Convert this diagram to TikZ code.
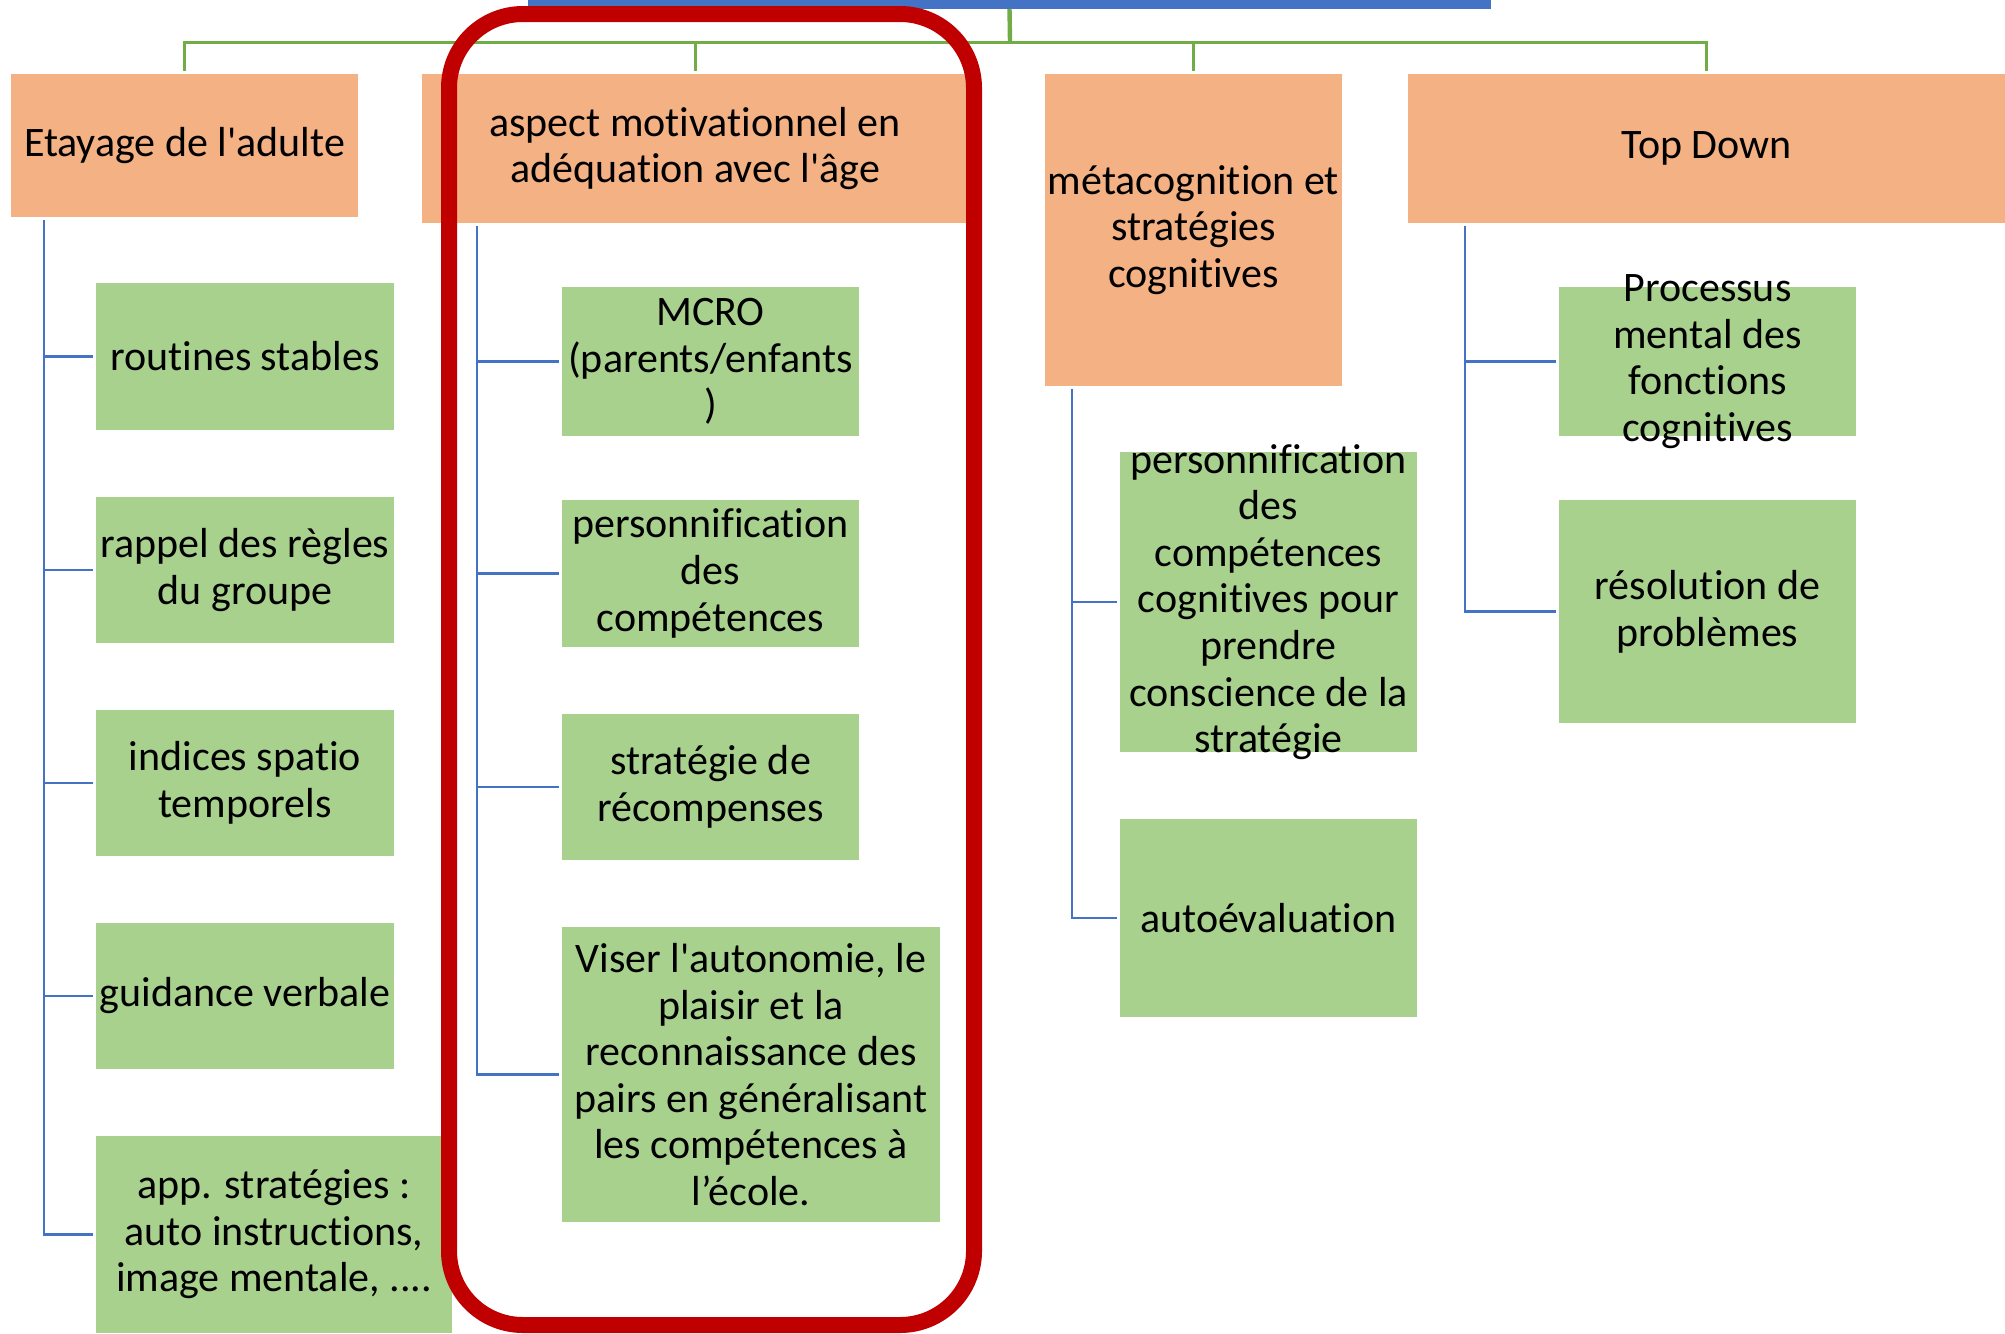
\documentclass[tikz,border=0pt]{standalone}
\usepackage{fontspec}
\newfontfamily\carl[Ligatures=NoCommon]{Carlito}
\definecolor{orangebox}{HTML}{F4B183}
\definecolor{greenbox}{HTML}{A9D18E}
\definecolor{linkblue}{HTML}{4472C4}
\definecolor{linkgreen}{HTML}{70AD47}
\definecolor{redframe}{HTML}{C00000}
\newcommand\pbox[7]{\node[#2, minimum width={(#5-#3)*0.5pt}, minimum height={(#6-#4)*0.5pt}, label={[boxtext]center:{#7}}] (#1) at ({(#3+#5)/2},{(#4+#6)/2}) {};}
\begin{document}
\begin{tikzpicture}[x=0.5pt,y=-0.5pt,
  boxtext/.style={inner sep=0pt, outer sep=0pt, align=center, text=black,
    font=\carl\fontsize{21pt}{23.3pt}\selectfont},
  basebox/.style={inner sep=0pt, outer sep=0pt},
  headbox/.style={basebox, fill=orangebox},
  leafbox/.style={basebox, fill=greenbox},
  rootbar/.style={inner sep=0pt, outer sep=0pt, fill=linkblue},
  greenlink/.style={draw=linkgreen, line width=1.5pt},
  bluelink/.style={draw=linkblue, line width=1.4pt},
  frame/.style={draw=redframe, line width=8pt, rounded corners=37pt}]
\useasboundingbox (0,0) rectangle (2005,1333);
% root bar (bottom edge of the root box)
\pbox{root}{rootbar}{528}{0}{1491}{9}{}
% headers
\pbox{et}{headbox}{11}{74}{358}{217}{Etayage de l'adulte}
\pbox{asp}{headbox}{422}{74}{968}{223}{aspect motivationnel en\\adéquation avec l'âge}
\pbox{meta}{headbox}{1045}{74}{1342}{386}{métacognition et\\stratégies\\cognitives}
\pbox{td}{headbox}{1408}{74}{2005}{223}{Top Down}
% column 1
\pbox{r1}{leafbox}{96}{283}{394}{430}{routines stables}
\pbox{r2}{leafbox}{96}{497}{394}{643}{rappel des règles\\du groupe}
\pbox{r3}{leafbox}{96}{710}{394}{856}{indices spatio\\temporels}
\pbox{r4}{leafbox}{96}{923}{394}{1069}{guidance verbale}
\pbox{r5}{leafbox}{96}{1136}{452}{1333}{app. stratégies :\\auto instructions,\\image mentale, ....}
% column 2
\pbox{a1}{leafbox}{562}{287}{859}{436}{MCRO\\(parents/enfants\\)}
\pbox{a2}{leafbox}{562}{500}{859}{647}{personnification\\des\\compétences}
\pbox{a3}{leafbox}{562}{714}{859}{860}{stratégie de\\récompenses}
\pbox{a4}{leafbox}{562}{927}{940}{1222}{Viser l'autonomie, le\\plaisir et la\\reconnaissance des\\pairs en généralisant\\les compétences à\\l’école.}
% column 3
\pbox{m1}{leafbox}{1120}{452}{1417}{752}{personnification\\des\\compétences\\cognitives pour\\prendre\\conscience de la\\stratégie}
\pbox{m2}{leafbox}{1120}{819}{1417}{1017}{autoévaluation}
% column 4
\pbox{t1}{leafbox}{1559}{287}{1856}{436}{Processus\\mental des\\fonctions\\cognitives}
\pbox{t2}{leafbox}{1559}{500}{1856}{723}{résolution de\\problèmes}
% green links
\coordinate (hub) at (1010,42);
\draw[greenlink, line width=2.2pt] (root.south) -- (hub);
\draw[greenlink] (hub) -| ([yshift=1.5pt]et.north);
\draw[greenlink] (hub) -| ([yshift=1.5pt]asp.north);
\draw[greenlink] (hub) -| ([yshift=1.5pt]meta.north);
\draw[greenlink] (hub) -| ([yshift=1.5pt]td.north);
% blue links
\coordinate (etv) at (44,220);
\coordinate (aspv) at (477,226);
\coordinate (metav) at (1072,389);
\coordinate (tdv) at (1465,226);
\foreach \c in {r1,r2,r3,r4,r5}{\draw[bluelink] (etv) |- ([xshift=-1.5pt]\c.west);}
\foreach \c in {a1,a2,a3,a4}{\draw[bluelink] (aspv) |- ([xshift=-1.5pt]\c.west);}
\foreach \c in {m1,m2}{\draw[bluelink] (metav) |- ([xshift=-1.5pt]\c.west);}
\foreach \c in {t1,t2}{\draw[bluelink] (tdv) |- ([xshift=-1.5pt]\c.west);}
% red highlight frame
\draw[frame] (449,14) rectangle (974,1325);
\end{tikzpicture}
\end{document}
